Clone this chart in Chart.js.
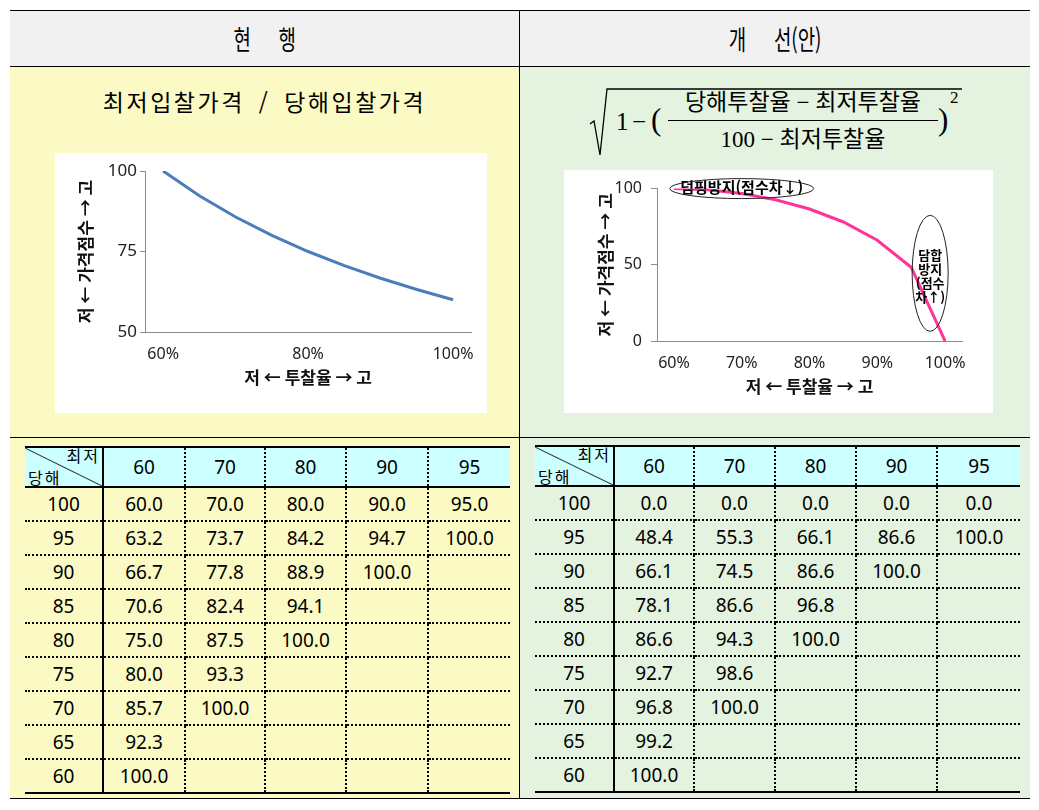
<!DOCTYPE html>
<html lang="ko">
<head>
<meta charset="utf-8">
<script src="https://cdn.jsdelivr.net/npm/chart.js@4.4.1/dist/chart.umd.min.js"></script>
<style>
  html, body { margin: 0; padding: 0; background: #fff; }
  body {
    width: 1039px; height: 810px; position: relative; overflow: hidden;
    font-family: "Noto Sans", "Noto Sans CJK KR", sans-serif; color: #000;
  }
  .abs { position: absolute; }
  .hline { position: absolute; left: 10px; width: 1020px; height: 1px; background: #000; }
  .bg-head { left: 10px; top: 11px; width: 1020px; height: 55px; background: #f1f1f1; }
  .bg-cur { left: 10px; top: 67px; width: 509px; height: 731px; background: #fbfac4; }
  .bg-new { left: 520px; top: 67px; width: 510px; height: 731px; background: #e4f3df; }
  .vline { left: 519px; top: 10px; width: 1px; height: 789px; background: #000; }

  .title {
    top: 11px; height: 55px; display: flex; align-items: center; justify-content: center;
    font-family: "Noto Sans CJK KR", sans-serif; font-size: 27px; word-spacing: 32px;
  }
  .title span { display: inline-block; transform: scaleX(0.7); white-space: pre; }

  .formula-cur {
    left: 10px; width: 509px; top: 84px; text-align: center;
    font-family: "Noto Sans CJK KR", sans-serif; font-size: 23px;
    letter-spacing: 2.5px; word-spacing: 5px;
  }
  .fx { font-family: "Liberation Serif", "Noto Sans CJK KR", serif; position: absolute; white-space: nowrap; line-height: 1; }

  .chart-box { position: absolute; background: #fff; }

  table.grid {
    position: absolute; border-collapse: collapse; table-layout: fixed;
    font-size: 19px; line-height: 1;
  }
  table.grid td {
    padding: 0; text-align: center; height: 32px;
    border-bottom: 2px dotted #000; border-right: 2px dotted #000;
  }
  table.grid tr.head td {
    background: #ccffff; height: 38px;
    border-top: 2px solid #000; border-bottom: 2px solid #000;
  }
  table.grid td:first-child { border-right: 2px solid #000; }
  table.grid td:last-child { border-right: none; }
  table.grid tr:last-child td { border-bottom: 2px solid #000; }
  table.grid tr.head td.corner {
    background: linear-gradient(to top right, transparent calc(50% - 1px), #333 50%, transparent calc(50% + 1px)), #ccffff;
  }
  .cw { position: relative; height: 38px; font-size: 16px; letter-spacing: 2px; }
  .cw .tr { position: absolute; right: 2px; top: 0px; }
  .cw .bl { position: absolute; left: 3px; bottom: 0px; }
</style>
</head>
<body>

<div class="abs bg-head"></div>
<div class="abs bg-cur"></div>
<div class="abs bg-new"></div>
<div class="hline" style="top:10px"></div>
<div class="hline" style="top:66px"></div>
<div class="hline" style="top:437px"></div>
<div class="hline" style="top:798px"></div>
<div class="abs vline"></div>

<div class="abs title" style="left:10px; width:509px"><span>현 행</span></div>
<div class="abs title" style="left:520px; width:510px"><span>개 선(안)</span></div>

<!-- 현행 산식 -->
<div class="abs formula-cur">최저입찰가격 / 당해입찰가격</div>

<!-- 개선안 산식 -->
<svg class="abs" style="left:588px; top:85px" width="380" height="75">
  <polyline points="2,39 6,36 12,70 19,4 374,4" fill="none" stroke="#000" stroke-width="1.3"/>
</svg>
<div class="fx" style="left:616px; top:109px; font-size:25px">1</div>
<div class="fx" style="left:632px; top:109px; font-size:25px">−</div>
<div class="fx" style="left:651px; top:104px; font-size:31px">(</div>
<div class="fx" style="left:668px; width:270px; top:91px; font-size:23px; text-align:center">당해투찰율 − 최저투찰율</div>
<div class="abs" style="left:668px; width:270px; top:120px; height:1px; background:#000"></div>
<div class="fx" style="left:668px; width:270px; top:128px; font-size:23px; text-align:center">100 − 최저투찰율</div>
<div class="fx" style="left:938px; top:104px; font-size:31px">)</div>
<div class="fx" style="left:950px; top:89px; font-size:17px">2</div>

<div class="chart-box" style="left:55px; top:153px; width:432px; height:260px">
  <canvas id="curChart" width="432" height="260"></canvas>
</div>
<div class="chart-box" style="left:564px; top:170px; width:429px; height:243px">
  <canvas id="newChart" width="429" height="243"></canvas>
</div>

<table class="grid" id="curTable" style="left:25px; top:446px"></table>
<table class="grid" id="newTable" style="left:535px; top:445px"></table>

<script>
// ---- data ----
const bidRates = [100, 95, 90, 85, 80, 75, 70, 65, 60];   // 당해 투찰율 (rows)
const minRates = [60, 70, 80, 90, 95];                    // 최저 투찰율 (columns)

// 현행 가격점수 (최저/당해)
const curRows = [
  [60.0, 70.0, 80.0, 90.0, 95.0],
  [63.2, 73.7, 84.2, 94.7, 100.0],
  [66.7, 77.8, 88.9, 100.0],
  [70.6, 82.4, 94.1],
  [75.0, 87.5, 100.0],
  [80.0, 93.3],
  [85.7, 100.0],
  [92.3],
  [100.0]
];

// 개선안 가격점수
const newRows = [
  [0.0, 0.0, 0.0, 0.0, 0.0],
  [48.4, 55.3, 66.1, 86.6, 100.0],
  [66.1, 74.5, 86.6, 100.0],
  [78.1, 86.6, 96.8],
  [86.6, 94.3, 100.0],
  [92.7, 98.6],
  [96.8, 100.0],
  [99.2],
  [100.0]
];

// charts: 최저투찰율 60% 기준
const xLabels = ['60%', '65%', '70%', '75%', '80%', '85%', '90%', '95%', '100%'];
const curLine = [100.0, 92.3, 85.7, 80.0, 75.0, 70.6, 66.7, 63.2, 60.0];
const newLine = [100.0, 99.2, 96.8, 92.7, 86.6, 78.1, 66.1, 48.4, 0.0];

const yTitle = '저 ← 가격점수 → 고';
const xTitle = '저 ← 투찰율 → 고';

// callouts on the 개선안 chart (category index / score)
const notes = [
  { at: 2, val: 100, rx: 72, ry: 10, dy: -1, lines: ['덤핑방지(점수차↓)'], size: 15, lh: 14 },
  { at: 7.56, val: 44.4, rx: 18, ry: 58, dy: 3, lines: ['담합', '방지', '(점수', '차↑)'], size: 13, lh: 14 }
];

// ---- tables ----
function buildTable(id, rows, widths) {
  let html = '<colgroup>' + widths.map(w => `<col style="width:${w}px">`).join('') + '</colgroup>';
  html += '<tr class="head"><td class="corner"><div class="cw"><span class="tr">최저</span><span class="bl">당해</span></div></td>';
  minRates.forEach(m => { html += `<td>${m}</td>`; });
  html += '</tr>';
  bidRates.forEach((b, i) => {
    html += `<tr><td>${b}</td>`;
    minRates.forEach((m, j) => {
      const v = rows[i][j];
      html += `<td>${v === undefined ? '' : v.toFixed(1)}</td>`;
    });
    html += '</tr>';
  });
  document.getElementById(id).innerHTML = html;
}

buildTable('curTable', curRows, [78, 82, 80, 81, 82, 82]);
buildTable('newTable', newRows, [79, 80, 81, 81, 81, 83]);

// ---- charts ----
Chart.defaults.font.family = '"Noto Sans", "Noto Sans CJK KR", sans-serif';
Chart.defaults.color = '#222';

const axisGrey = '#8c8c8c';
const titleFont = { family: '"Noto Sans CJK KR", sans-serif', size: 17, weight: 'bold' };

const notePlugin = {
  id: 'notes',
  afterDatasetsDraw(chart) {
    const { ctx, scales: { x, y } } = chart;
    ctx.save();
    notes.forEach(n => {
      const cx = x.getPixelForValue(n.at);
      const cy = y.getPixelForValue(n.val);
      ctx.beginPath();
      ctx.ellipse(cx, cy, n.rx, n.ry, 0, 0, Math.PI * 2);
      ctx.strokeStyle = '#222';
      ctx.lineWidth = 1;
      ctx.stroke();
      ctx.font = `bold ${n.size}px "Noto Sans CJK KR", sans-serif`;
      ctx.fillStyle = '#000';
      ctx.textAlign = 'center';
      ctx.textBaseline = 'middle';
      n.lines.forEach((t, i) => {
        ctx.fillText(t, cx, cy + n.dy + (i - (n.lines.length - 1) / 2) * n.lh);
      });
    });
    ctx.restore();
  }
};

function makeChart(id, data, color, o) {
  return new Chart(document.getElementById(id), {
    type: 'line',
    data: {
      labels: xLabels,
      datasets: [{
        data: data,
        borderColor: color,
        borderWidth: 3,
        pointRadius: 0,
        tension: 0,
        fill: false
      }]
    },
    plugins: o.plugins || [],
    options: {
      responsive: false,
      animation: false,
      layout: { padding: { left: 0, top: 18, right: o.padRight, bottom: 0 } },
      plugins: { legend: { display: false }, tooltip: { enabled: false } },
      scales: {
        x: {
          type: 'category',
          offset: true,
          grid: { display: false, drawTicks: false },
          border: { display: true, color: axisGrey, width: 1 },
          ticks: {
            autoSkip: false, maxRotation: 0, padding: o.xPad,
            font: { size: 16 }, color: '#222',
            callback: function (v, i) { return i % o.every === 0 ? this.getLabelForValue(v) : ''; }
          },
          title: { display: true, text: xTitle, font: titleFont, color: '#111', padding: { top: 0, bottom: o.xTitlePad } },
          afterFit: s => { s.height = o.xHeight; }
        },
        y: {
          min: o.yMin, max: 100,
          grid: { drawOnChartArea: false, drawTicks: true, tickLength: o.tickLen, color: axisGrey },
          border: { display: true, color: axisGrey, width: 1 },
          ticks: { stepSize: o.yStep, padding: o.yPad, font: { size: o.yFont }, color: '#222' },
          title: { display: true, text: yTitle, font: titleFont, color: '#111', padding: { top: o.yTitlePad, bottom: 0 } },
          afterFit: s => { s.width = o.yWidth; }
        }
      }
    }
  });
}

makeChart('curChart', curLine, '#4a7ebb', {
  padRight: 10, xHeight: 81, yWidth: 90, yMin: 50, yStep: 25,
  every: 4, xPad: 13, xTitlePad: 25, yTitlePad: 20, tickLen: 5, yPad: 3, yFont: 17
});

makeChart('newChart', newLine, '#ff3399', {
  padRight: 31, xHeight: 72, yWidth: 93, yMin: 0, yStep: 50,
  every: 2, xPad: 13, xTitlePad: 16, yTitlePad: 31, tickLen: 6, yPad: 9, yFont: 16,
  plugins: [notePlugin]
});
</script>
</body>
</html>
